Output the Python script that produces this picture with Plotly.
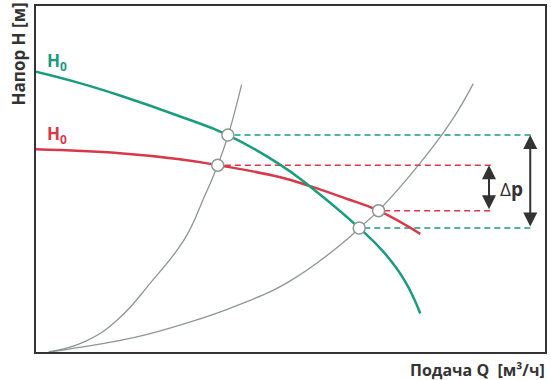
import plotly.graph_objects as go

# Pump curves (Q, H)
green_q = [0, 0.86, 1.65, 2.82, 3.77, 4.78, 5.37, 6.35, 6.84, 7.24, 7.55]
green_h = [5.67, 5.44, 5.19, 4.77, 4.39, 3.80, 3.36, 2.51, 2.01, 1.45, 0.78]

red_q = [0, 1.65, 2.82, 3.57, 4.78, 5.37, 6.10, 6.73, 7.55]
red_h = [4.10, 4.02, 3.90, 3.78, 3.54, 3.36, 3.10, 2.86, 2.39]

# System curves
steep_q = [0.25, 0.98, 1.63, 2.29, 2.75, 3.00, 3.29, 3.57, 3.77, 4.04]
steep_h = [0.0, 0.22, 0.68, 1.45, 2.03, 2.43, 3.10, 3.78, 4.37, 5.41]

gentle_q = [0.25, 0.65, 1.25, 1.96, 2.94, 3.92, 4.98, 6.10, 6.35, 6.73, 7.53, 8.16, 8.59]
gentle_h = [0.0, 0.06, 0.16, 0.30, 0.58, 0.93, 1.43, 2.27, 2.51, 2.86, 3.80, 4.67, 5.43]

# Operating points
op_q = [3.77, 3.57, 6.35, 6.73]
op_h = [4.39, 3.78, 2.51, 2.86]

# Dashed reference lines: start Q, end Q, H
green_dash_start = [3.90, 6.45]
green_dash_end = [9.73, 9.73]
green_dash_h = [4.39, 2.51]
red_dash_start = [3.71, 6.84]
red_dash_end = [8.94, 8.94]
red_dash_h = [3.78, 2.86]

# Arrows
big_arrow_q = 9.71
small_arrow_q = 8.90

GREEN = "#1a9c7e"
RED = "#d8394a"
GRAY = "#8e9696"
DARK = "#333333"
FONT = "Open Sans"
SM = 1.3

fig = go.Figure()

fig.add_trace(go.Scatter(x=steep_q, y=steep_h, mode="lines",
                         line=dict(color=GRAY, width=1.3, shape="spline", smoothing=SM)))
fig.add_trace(go.Scatter(x=gentle_q, y=gentle_h, mode="lines",
                         line=dict(color=GRAY, width=1.3, shape="spline", smoothing=SM)))

for s, e, h in zip(green_dash_start, green_dash_end, green_dash_h):
    fig.add_trace(go.Scatter(x=[s, e], y=[h, h], mode="lines",
                             line=dict(color=GREEN, width=1.5, dash="6px,4px")))
for s, e, h in zip(red_dash_start, red_dash_end, red_dash_h):
    fig.add_trace(go.Scatter(x=[s, e], y=[h, h], mode="lines",
                             line=dict(color=RED, width=1.5, dash="6px,4px")))

fig.add_trace(go.Scatter(x=red_q, y=red_h, mode="lines",
                         line=dict(color=RED, width=2.5, shape="spline", smoothing=SM)))
fig.add_trace(go.Scatter(x=green_q, y=green_h, mode="lines",
                         line=dict(color=GREEN, width=2.5, shape="spline", smoothing=SM)))

fig.add_trace(go.Scatter(x=op_q, y=op_h, mode="markers",
                         marker=dict(size=12, color="white", line=dict(color=GRAY, width=1.5))))

# Double arrows
for q, h1, h2 in [(big_arrow_q, green_dash_h[0], green_dash_h[1]),
                  (small_arrow_q, red_dash_h[0], red_dash_h[1])]:
    fig.add_annotation(x=q, y=h1, ax=q, ay=h2, xref="x", yref="y", axref="x", ayref="y",
                       showarrow=True, arrowhead=2, arrowside="end+start", arrowsize=1.4,
                       arrowwidth=2, arrowcolor=DARK, text="", standoff=0, startstandoff=0)

fig.add_annotation(x=9.35, y=3.30, xref="x", yref="y", text="Δ<b>p</b>", showarrow=False,
                   font=dict(family=FONT, size=19, color=DARK), xanchor="center", yanchor="middle")

fig.add_annotation(x=0.41, y=5.87, xref="x", yref="y", text="<b>H<sub>0</sub></b>", showarrow=False,
                   font=dict(family=FONT, size=17, color=GREEN), xanchor="center", yanchor="middle")
fig.add_annotation(x=0.41, y=4.40, xref="x", yref="y", text="<b>H<sub>0</sub></b>", showarrow=False,
                   font=dict(family=FONT, size=17, color=RED), xanchor="center", yanchor="middle")

fig.add_annotation(x=-0.0353, y=0.86, xref="paper", yref="paper", text="<b>Напор H [м]</b>",
                   textangle=-90, showarrow=False, xanchor="center", yanchor="middle",
                   font=dict(family=FONT, size=17, color=DARK))
fig.add_annotation(x=1.004, y=-0.052, xref="paper", yref="paper", text="<b>Подача Q\u00a0 [м³/ч]</b>",
                   showarrow=False, xanchor="right", yanchor="middle",
                   font=dict(family=FONT, size=16, color=DARK))

axis_common = dict(showgrid=False, zeroline=False, showticklabels=False, ticks="",
                   showline=True, mirror=True, linecolor=DARK, linewidth=2)
fig.update_xaxes(range=[0, 10], **axis_common)
fig.update_yaxes(range=[0, 7], **axis_common)

fig.update_layout(width=551, height=380, margin=dict(l=36, r=5, t=4, b=28),
                  paper_bgcolor="white", plot_bgcolor="white", showlegend=False)

fig.write_html("out.html", config={"displayModeBar": False},
               post_script="document.body.style.margin='0';document.body.style.overflow='hidden';")
